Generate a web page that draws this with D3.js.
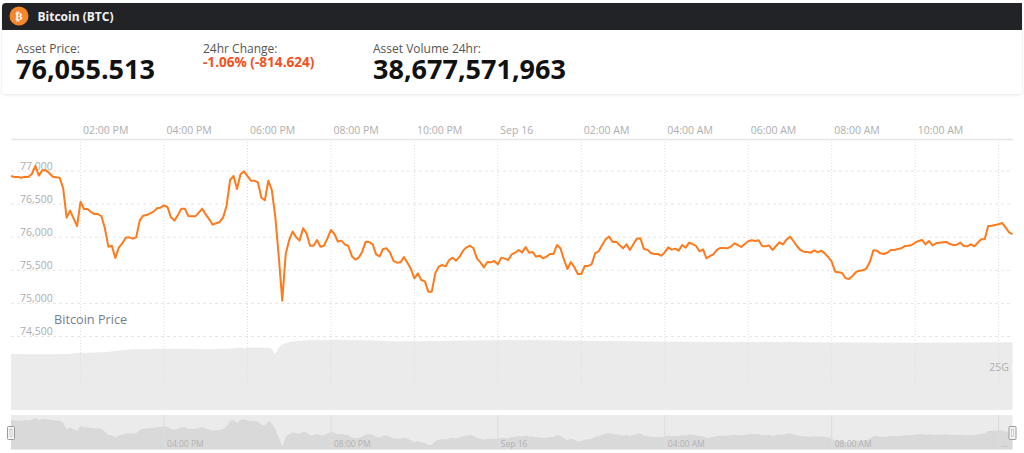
<!DOCTYPE html>
<html>
<head>
<meta charset="utf-8">
<script src="https://cdn.jsdelivr.net/npm/d3@7"></script>
<style>
  html, body { margin: 0; padding: 0; background: #fff; overflow: hidden; }
  svg { display: block; font-family: "Open Sans", sans-serif; }
</style>
</head>
<body>
<div id="chart"></div>
<script>
// Price every 5 minutes
const prices = [
  76924, 76909, 76909, 76899, 76914, 76909, 76955, 77076, 76930, 77010, 77010, 76970, 76914, 76904, 76899, 76738,
  76295, 76401, 76285, 76169, 76537, 76426, 76426, 76381, 76350, 76350, 76320, 76134, 75857, 75872, 75686, 75842,
  75907, 75993, 75998, 75978, 75998, 76250, 76325, 76335, 76361, 76386, 76436, 76446, 76481, 76456, 76300, 76250,
  76335, 76431, 76431, 76320, 76315, 76315, 76371, 76431, 76345, 76270, 76189, 76210, 76230, 76300, 76476, 76864,
  76924, 76728, 76950, 76995, 76924, 76854, 76854, 76829, 76597, 76557, 76854, 76713, 76310, 75706, 75041, 75746,
  75958, 76084, 75998, 75948, 76134, 76058, 75872, 75872, 75958, 75857, 75872, 75983, 76109, 76048, 75933,
  75948, 75892, 75867, 75716, 75661, 75691, 75782, 75933, 75928, 75892, 75741, 75711, 75822, 75832, 75766, 75641,
  75615, 75620, 75701, 75615, 75520, 75379, 75454, 75354, 75333, 75177, 75177, 75454, 75555, 75580, 75560, 75656,
  75691, 75646, 75706, 75797, 75847, 75872, 75832, 75676, 75620, 75545, 75625, 75620, 75641, 75590, 75691, 75676,
  75656, 75741, 75766, 75807, 75771, 75852, 75766, 75776, 75706, 75721, 75681, 75706, 75746, 75746, 75882, 75832,
  75666, 75520, 75625, 75545, 75444, 75444, 75565, 75565, 75595, 75761, 75787, 75882, 75968, 76008, 75928, 75933,
  75882, 75832, 75892, 75807, 75897, 75978, 75983, 75822, 75812, 75761, 75746, 75746, 75721, 75771, 75847, 75812,
  75827, 75797,
  75882, 75842, 75917, 75897, 75867, 75787, 75817, 75681, 75716, 75741, 75807, 75837, 75837, 75832, 75857, 75907,
  75882, 75852, 75897, 75938, 75953, 75943, 75953, 75867, 75862, 75877, 75807, 75867, 75923, 75892, 75963, 76008,
  75943, 75867, 75807, 75782, 75777, 75766, 75802, 75771, 75797, 75756, 75701, 75630, 75479, 75469, 75459, 75379,
  75369, 75414, 75474, 75495, 75500, 75530, 75630, 75802, 75797, 75756, 75746, 75766, 75807, 75807, 75820, 75832, 75867,
  75872, 75882, 75917, 75943, 75958, 75892, 75943, 75877, 75907, 75917, 75923, 75928, 75897, 75882, 75887, 75917,
  75867, 75862, 75892, 75862, 75917, 75968, 75968, 76169, 76174, 76184, 76194, 76215, 76149, 76074, 76048
];

// 24h volume, in G, at hours since the start of the chart
const volumeHours = [0, 0.53, 1.18, 1.65, 2.37, 2.93, 3.65, 4.53, 5.18, 5.49, 6.21, 6.33, 6.45, 6.69, 7.1, 7.72, 8.54, 9.33, 10.12, 12.01, 13.62, 16.02, 19.2, 21.6, 24];
const volumeValues = [32.6, 32.4, 32.4, 33.1, 33.9, 35.3, 35.6, 35.5, 35.6, 36.2, 36.2, 33.0, 37.2, 39.5, 40.5, 40.9, 40.5, 39.9, 40.1, 40.7, 40.3, 39.7, 39.4, 39.1, 39.4];

const startTime = Date.UTC(2024, 8, 15, 12, 20);
const hour = 3600 * 1000;

// Hours since the start for the two-hourly grid
const timeTickHours = [1.667, 3.667, 5.667, 7.667, 9.667, 11.667, 13.667, 15.667, 17.667, 19.667, 21.667, 23.667];
const timeTickLabels = ['02:00 PM', '04:00 PM', '06:00 PM', '08:00 PM', '10:00 PM', 'Sep 16', '02:00 AM', '04:00 AM', '06:00 AM', '08:00 AM', '10:00 AM', ''];
const navTickHours = [3.667, 7.667, 11.667, 15.667, 19.667, 23.667];
const navTickLabels = ['04:00 PM', '08:00 PM', 'Sep 16', '04:00 AM', '08:00 AM', '...'];
const priceTicks = [74500, 75000, 75500, 76000, 76500, 77000];
const volumeTicks = [25];

const width = 1024;
const height = 453;
const left = 11;
const right = 1012.5;

const svg = d3.select('#chart')
  .append('svg')
  .attr('width', width)
  .attr('height', height);

const toDate = h => new Date(startTime + h * hour);

// Scales
const x = d3.scaleUtc()
  .domain([toDate(0), toDate(24)])
  .range([left, right]);

const y = d3.scaleLinear()
  .domain([74500, 77000])
  .range([336.5, 171]);

const yVolume = d3.scaleLinear()
  .domain([0, 25])
  .range([410, 367]);

const yNav = d3.scaleLinear()
  .domain([d3.min(prices), d3.max(prices)])
  .range([447, 418]);

const priceTime = (d, i) => x(toDate(i * 5 / 60));

// Card with the header
const defs = svg.append('defs');
const shadow = defs.append('filter').attr('id', 'card-shadow')
  .attr('x', '-2%').attr('y', '-10%').attr('width', '104%').attr('height', '125%');
shadow.append('feDropShadow')
  .attr('dx', 0).attr('dy', 1).attr('stdDeviation', 1.5)
  .attr('flood-color', '#000').attr('flood-opacity', 0.1);

svg.append('rect')
  .attr('x', 2).attr('y', 3)
  .attr('width', 1020).attr('height', 91)
  .attr('rx', 4)
  .attr('fill', '#fff')
  .attr('filter', 'url(#card-shadow)');

svg.append('path')
  .attr('d', 'M2,30V7a4,4 0 0 1 4,-4H1022V30Z')
  .attr('fill', '#222327');

svg.append('circle')
  .attr('cx', 19).attr('cy', 16).attr('r', 9.5)
  .attr('fill', '#f7862a');

svg.append('text')
  .attr('x', 19).attr('y', 20)
  .attr('text-anchor', 'middle')
  .attr('font-family', 'DejaVu Sans')
  .attr('font-size', 11)
  .attr('font-weight', 700)
  .attr('fill', '#fff')
  .text('₿');

svg.append('text')
  .attr('x', 37.5).attr('y', 21)
  .attr('font-size', 12)
  .attr('font-weight', 700)
  .attr('fill', '#f2f2f2')
  .text('Bitcoin (BTC)');

const statLabels = ['Asset Price:', '24hr Change:', 'Asset Volume 24hr:'];
const statLabelX = [16, 203, 373];
svg.selectAll('.stat-label')
  .data(statLabels)
  .enter()
  .append('text')
  .attr('class', 'stat-label')
  .attr('x', (d, i) => statLabelX[i])
  .attr('y', 52.5)
  .attr('font-size', 12)
  .attr('fill', '#555')
  .text(d => d);

svg.append('text')
  .attr('x', 16).attr('y', 79)
  .attr('font-size', 27)
  .attr('font-weight', 700)
  .attr('fill', '#111')
  .text('76,055.513');

svg.append('text')
  .attr('x', 373).attr('y', 79)
  .attr('font-size', 27)
  .attr('font-weight', 700)
  .attr('fill', '#111')
  .text('38,677,571,963');

svg.append('text')
  .attr('x', 203).attr('y', 66.5)
  .attr('font-size', 13.6)
  .attr('font-weight', 700)
  .attr('fill', '#f4511e')
  .text('-1.06% (-814.624)');

// Volume pane
svg.append('path')
  .datum(volumeValues)
  .attr('d', d3.area()
    .x((d, i) => x(toDate(volumeHours[i])))
    .y0(yVolume(0))
    .y1(d => yVolume(d))
    .curve(d3.curveMonotoneX))
  .attr('fill', '#ebebeb');

// Horizontal grid
svg.selectAll('.grid-y')
  .data(priceTicks)
  .enter()
  .append('line')
  .attr('class', 'grid-y')
  .attr('x1', left).attr('x2', right)
  .attr('y1', d => y(d)).attr('y2', d => y(d))
  .attr('stroke', '#e6e6e6')
  .attr('stroke-dasharray', '3,3');

// Vertical grid
svg.selectAll('.grid-x')
  .data(timeTickHours)
  .enter()
  .append('line')
  .attr('class', 'grid-x')
  .attr('x1', d => x(toDate(d))).attr('x2', d => x(toDate(d)))
  .attr('y1', 139).attr('y2', 384)
  .attr('stroke', '#dedede')
  .attr('stroke-dasharray', '1,2');

// Top time axis
const topAxis = svg.append('g')
  .attr('transform', 'translate(0,139)')
  .call(d3.axisTop(x)
    .tickValues(timeTickHours.map(toDate))
    .tickSize(0)
    .tickPadding(5)
    .tickFormat((d, i) => timeTickLabels[i]));
topAxis.select('.domain').attr('stroke', '#e6e6e6').attr('stroke-width', 1.5);
topAxis.selectAll('text')
  .attr('text-anchor', 'start')
  .attr('dx', 2)
  .attr('font-family', '"Open Sans", sans-serif')
  .attr('font-size', 10.5)
  .attr('fill', '#aeaeae');

// Price axis
const priceAxis = svg.append('g')
  .attr('transform', 'translate(20,0)')
  .call(d3.axisRight(y)
    .tickValues(priceTicks)
    .tickSize(0)
    .tickPadding(0)
    .tickFormat(d3.format(',')));
priceAxis.select('.domain').remove();
priceAxis.selectAll('text')
  .attr('dy', -2)
  .attr('font-family', '"Open Sans", sans-serif')
  .attr('font-size', 10.5)
  .attr('fill', '#aeaeae');

// Volume axis
const volumeAxis = svg.append('g')
  .attr('transform', 'translate(1009,0)')
  .call(d3.axisLeft(yVolume)
    .tickValues(volumeTicks)
    .tickSize(0)
    .tickPadding(0)
    .tickFormat(d => d + 'G'));
volumeAxis.select('.domain').remove();
volumeAxis.selectAll('text')
  .attr('font-family', '"Open Sans", sans-serif')
  .attr('font-size', 10.5)
  .attr('fill', '#aeaeae');

// Price line
svg.append('path')
  .datum(prices)
  .attr('d', d3.line().x(priceTime).y(d => y(d)))
  .attr('fill', 'none')
  .attr('stroke', '#ff7a1c')
  .attr('stroke-width', 2)
  .attr('stroke-linejoin', 'round');

svg.append('text')
  .attr('x', 54).attr('y', 324)
  .attr('font-size', 12.7)
  .attr('fill', '#75808f')
  .text('Bitcoin Price');

// Navigator
svg.append('rect')
  .attr('x', left).attr('y', 415)
  .attr('width', right - left).attr('height', 34.5)
  .attr('fill', '#ebebeb');

svg.append('path')
  .datum(prices)
  .attr('d', d3.area().x(priceTime).y0(449.5).y1(d => yNav(d)))
  .attr('fill', '#d9d9d9');

svg.selectAll('.nav-grid')
  .data(navTickHours)
  .enter()
  .append('line')
  .attr('class', 'nav-grid')
  .attr('x1', d => x(toDate(d))).attr('x2', d => x(toDate(d)))
  .attr('y1', 415).attr('y2', 449)
  .attr('stroke', '#dcdcdc');

svg.selectAll('.nav-label')
  .data(navTickLabels)
  .enter()
  .append('text')
  .attr('class', 'nav-label')
  .attr('x', (d, i) => x(toDate(navTickHours[i])) + 3)
  .attr('y', 447)
  .attr('font-size', 8.5)
  .attr('fill', '#b2b2b2')
  .text(d => d);

// Navigator handles
const handleX = [11, 1012.5];
const handles = svg.selectAll('.nav-handle')
  .data(handleX)
  .enter()
  .append('g')
  .attr('class', 'nav-handle')
  .attr('transform', d => `translate(${d},433)`);
handles.append('rect')
  .attr('x', -3.5).attr('y', -6.5)
  .attr('width', 7).attr('height', 13)
  .attr('rx', 1)
  .attr('fill', '#f4f4f4')
  .attr('stroke', '#9a9a9a');
handles.append('rect')
  .attr('x', -1).attr('y', -3.5)
  .attr('width', 2).attr('height', 7)
  .attr('fill', '#fff')
  .attr('stroke', '#9a9a9a')
  .attr('stroke-width', 0.5);
</script>
</body>
</html>
